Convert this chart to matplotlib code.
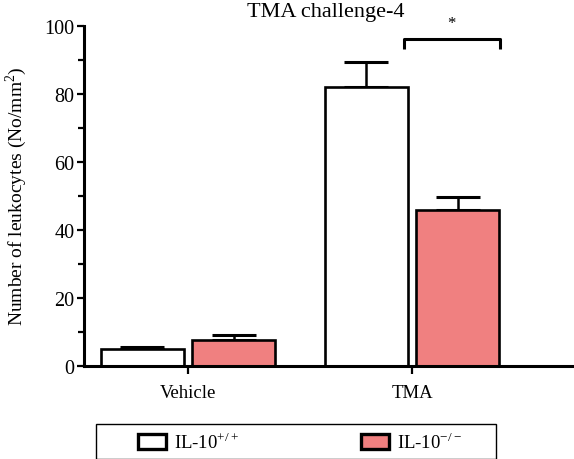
import matplotlib
matplotlib.use("Agg")
import matplotlib.pyplot as plt
import numpy as np
from matplotlib.patches import Patch, Rectangle

plt.rcParams['font.family'] = ['Liberation Serif', 'DejaVu Serif']
plt.rcParams['mathtext.fontset'] = 'custom'
plt.rcParams['mathtext.rm'] = 'Liberation Serif'

groups = ["Vehicle", "TMA"]
series_names = ["IL-10$^{+/+}$", "IL-10$^{-/-}$"]
wt_values = [5.0, 82.0]
wt_err = [0.6, 7.4]
ko_values = [7.6, 45.8]
ko_err = [1.5, 3.9]
colors = ["white", "#F08080"]

fig = plt.figure(figsize=(5.74, 4.6), dpi=100)
ax = fig.add_axes([84/574, 1-367/460, 1-84/574, (367-27)/460])

x = np.arange(len(groups))
w = 0.37
off = 0.205
lw = 1.9
ax.bar(x - off, wt_values, w, color=colors[0], edgecolor='black', linewidth=lw, zorder=2)
ax.bar(x + off, ko_values, w, color=colors[1], edgecolor='black', linewidth=lw, zorder=2)
ax.errorbar(x - off, wt_values, yerr=[np.zeros(2), wt_err], fmt='none', ecolor='black',
            elinewidth=1.8, capsize=16, capthick=2.2, zorder=1)
ax.errorbar(x + off, ko_values, yerr=[np.zeros(2), ko_err], fmt='none', ecolor='black',
            elinewidth=1.8, capsize=16, capthick=2.2, zorder=1)

ax.set_xlim(-(188-84)/224, (574-188)/224)
ax.set_ylim(0, 100)
ax.set_xticks(x)
ax.set_xticklabels(groups, fontsize=13.5)
ax.set_yticks([0, 20, 40, 60, 80, 100])
ax.set_yticks([10, 30, 50, 70, 90], minor=True)
ax.tick_params(axis='y', labelsize=14.5, width=1.6, length=5, direction='out', pad=2)
ax.tick_params(axis='y', which='minor', width=1.6, length=4)
ax.tick_params(axis='x', width=1.6, length=6, direction='out', pad=7)
for s in ['top', 'right']:
    ax.spines[s].set_visible(False)
for s in ['left', 'bottom']:
    ax.spines[s].set_linewidth(2.2)

ax.set_ylabel("Number of leukocytes (No/mm$^2$)", fontsize=14, va='center', ha='center')
ax.yaxis.set_label_coords(-(84-16)/490, (367-196)/340)

# significance bracket
bx0, bx1 = (404-188)/224, (500-188)/224
ax.plot([bx0, bx0, bx1, bx1], [93.2, 96.2, 96.2, 93.2], color='black', lw=2.2,
        clip_on=False, solid_capstyle='butt')
ax.text((451-188)/224, 98.5, "*", ha='center', va='bottom', fontsize=12, clip_on=False)

fig.text(326/574, 1-13/460, "TMA challenge-4", ha='center', va='center', fontsize=16)

# legend frame
fig.patches.append(Rectangle((96/574, 0), 400/574, 1-425/460, transform=fig.transFigure,
                             facecolor='none', edgecolor='black', linewidth=1.0, clip_on=False))
handles = [Patch(facecolor=colors[0], edgecolor='black', linewidth=2.4),
           Patch(facecolor=colors[1], edgecolor='black', linewidth=2.4)]
leg = fig.legend(handles, series_names, loc='upper left',
                 bbox_to_anchor=(138/574, 1-432/460, (462-138)/574, 0.0), mode='expand', ncol=2,
                 fontsize=13.5, frameon=False, borderpad=0, handlelength=1.5, handleheight=0.9,
                 handletextpad=0.4, borderaxespad=0)

fig.savefig("out.png", dpi=100)
